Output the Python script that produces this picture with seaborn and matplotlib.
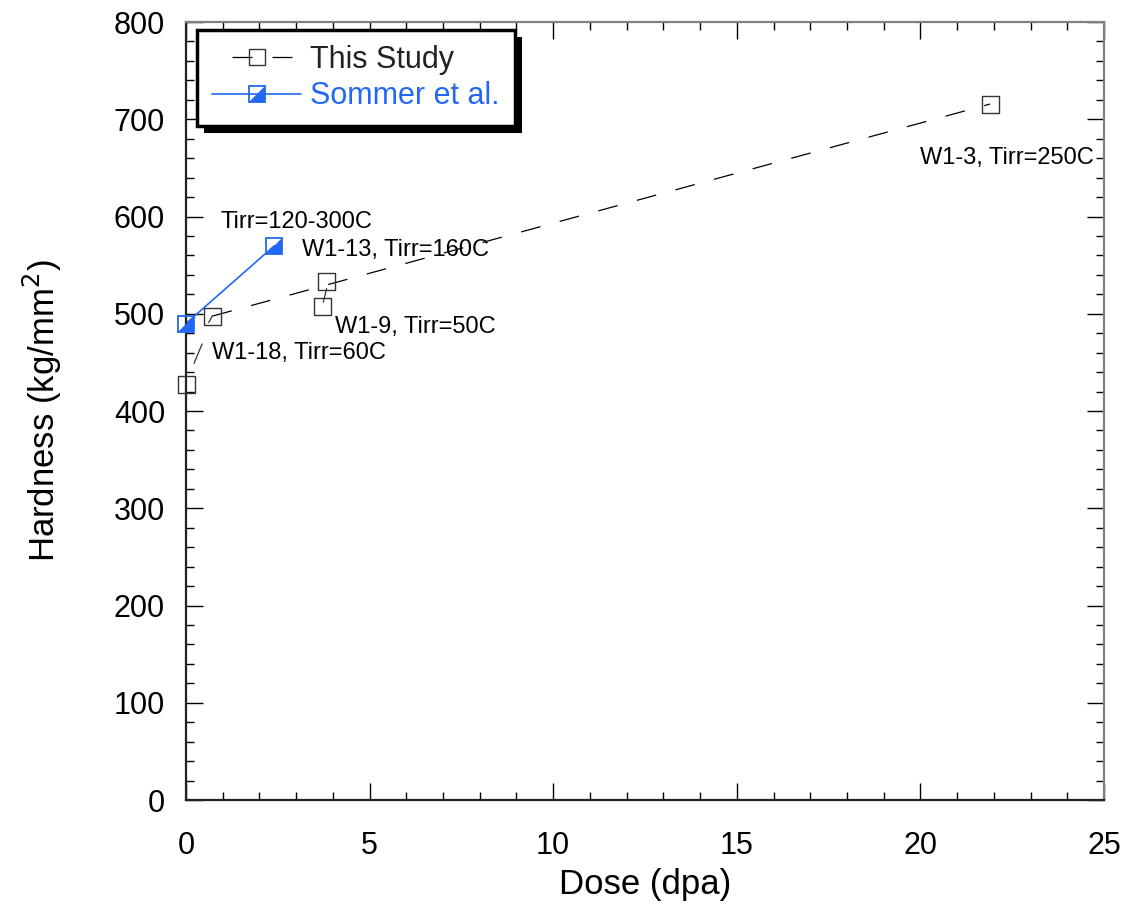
import numpy as np
import pandas as pd
import seaborn as sns
import matplotlib
matplotlib.use("Agg")
import matplotlib.pyplot as plt
from matplotlib.lines import Line2D
from matplotlib.legend_handler import HandlerTuple
from matplotlib.ticker import MultipleLocator
import matplotlib.patheffects as pe

# ---- data ----
study_dose = [0.02, 0.72, 3.83, 3.72, 21.9]
study_hard = [427.5, 497.6, 533.7, 507.3, 715.7]
fit_dose = [0.72, 21.9]
fit_hard = [497.6, 715.7]
sommer_dose = [0.0, 2.41]
sommer_hard = [490.0, 570.0]

labels = ["Tirr=120-300C", "W1-13, Tirr=160C", "W1-9, Tirr=50C",
          "W1-18, Tirr=60C", "W1-3, Tirr=250C"]
label_x = [0.93, 3.16, 4.06, 0.71, 19.99]
label_y = [594, 565.5, 486, 459.6, 660]

# leader lines (x0, y0, x1, y1)
leader_x0 = [0.44, 3.83, 0.62]
leader_y0 = [469, 526, 491]
leader_x1 = [0.22, 3.74, 0.72]
leader_y1 = [449, 512, 498]

BLUE = "#2368F5"

sns.set_theme(style="ticks")
plt.rcParams['font.family'] = ['Liberation Sans', 'DejaVu Sans']

fig = plt.figure(figsize=(11.27, 9.18), dpi=100)
ax = fig.add_axes([0.165, 0.1285, 0.8146, 0.8475])

# dashed fit line
fit_df = pd.DataFrame({"dose": fit_dose, "hard": fit_hard})
sns.lineplot(data=fit_df, x="dose", y="hard", ax=ax, color="black",
             linewidth=0.9, estimator=None, sort=False)
ax.lines[-1].set_dashes((16, 16))

# study points
st_df = pd.DataFrame({"dose": study_dose, "hard": study_hard})
sns.scatterplot(data=st_df, x="dose", y="hard", ax=ax, marker="s", s=150,
                facecolor="none", edgecolor="#333333", linewidth=1.0,
                zorder=4, clip_on=False)

# Sommer line
so_df = pd.DataFrame({"dose": sommer_dose, "hard": sommer_hard})
sns.lineplot(data=so_df, x="dose", y="hard", ax=ax, color=BLUE,
             linewidth=1.2, estimator=None, sort=False)
tri = [(-1, -1), (1, -1), (1, 1)]
ax.plot(sommer_dose, sommer_hard, linestyle="none", marker=tri,
        markersize=11.5, color=BLUE, markeredgewidth=0, zorder=5, clip_on=False)
ax.plot(sommer_dose, sommer_hard, linestyle="none", marker="s",
        markersize=11.5, markerfacecolor="none", markeredgecolor=BLUE,
        markeredgewidth=1.3, zorder=6, clip_on=False)

# annotations
for t, x, y in zip(labels, label_x, label_y):
    ax.text(x, y, t, fontsize=17, va="center", ha="left", color="black")
for x0, y0, x1, y1 in zip(leader_x0, leader_y0, leader_x1, leader_y1):
    ax.plot([x0, x1], [y0, y1], color="#333333", linewidth=0.9)

ax.set_xlim(0, 25)
ax.set_ylim(0, 800)
ax.xaxis.set_major_locator(MultipleLocator(5))
ax.xaxis.set_minor_locator(MultipleLocator(1))
ax.yaxis.set_major_locator(MultipleLocator(100))
ax.yaxis.set_minor_locator(MultipleLocator(20))
ax.tick_params(which="both", direction="in", top=True, right=True,
               colors="black", width=1.0, labelcolor="black")
ax.tick_params(which="major", length=12, labelsize=22)
ax.tick_params(axis="x", which="major", pad=22)
ax.tick_params(axis="y", which="major", pad=15)
ax.tick_params(which="minor", length=6)
for side in ["left", "bottom"]:
    ax.spines[side].set_color("#222222")
    ax.spines[side].set_linewidth(1.6)
for side in ["top", "right"]:
    ax.spines[side].set_color("#808080")
    ax.spines[side].set_linewidth(1.6)

ax.set_xlabel("Dose (dpa)", fontsize=25, labelpad=5, color="black")
ax.set_ylabel("Hardness (kg/mm$^2$)", fontsize=25, labelpad=36, color="black")

# legend
h1 = Line2D([], [], color="black", linewidth=0.9, linestyle=(16, (16, 16)),
            marker="s", markersize=11.5, markerfacecolor="none",
            markeredgecolor="#333333")
h2a = Line2D([], [], color=BLUE, linewidth=1.2, marker="s", markersize=11.5,
             markerfacecolor="none", markeredgecolor=BLUE, markeredgewidth=1.3)
h2b = Line2D([], [], linestyle="none", marker=tri, markersize=11.5,
             color=BLUE, markeredgewidth=0)
leg = ax.legend([h1, (h2a, h2b)], ["This Study", "Sommer et al."],
                handler_map={tuple: HandlerTuple(ndivide=1)},
                loc="upper left", bbox_to_anchor=(0.012, 0.99),
                borderaxespad=0, fontsize=22, frameon=True, fancybox=False,
                handlelength=2.9, handletextpad=0.3, borderpad=0.5,
                labelspacing=0.2)
leg.get_texts()[1].set_color(BLUE)
leg.get_texts()[0].set_color("#222222")
fr = leg.get_frame()
fr.set_edgecolor("black")
fr.set_linewidth(2.5)
fr.set_alpha(1)
fr.set_path_effects([pe.SimplePatchShadow(offset=(5, -5), shadow_rgbFace="black", alpha=1),
                     pe.Normal()])

fig.savefig("out.png", dpi=100)
